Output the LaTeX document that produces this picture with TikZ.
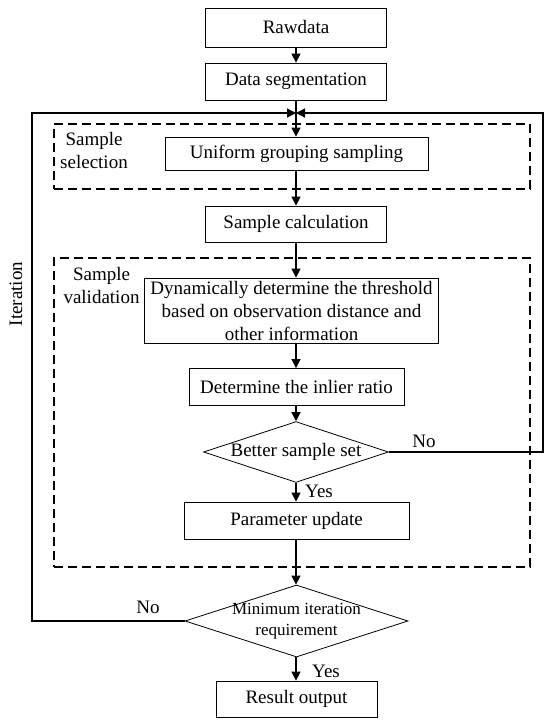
\documentclass[tikz,border=0pt]{standalone}
\usepackage{fontspec}
\setmainfont{Liberation Serif}
\usetikzlibrary{shapes.geometric,arrows.meta}
\begin{document}
\begin{tikzpicture}[x=1pt,y=-1pt,
  every node/.style={font=\fontsize{19}{23}\selectfont},
  box/.style={draw,line width=0.8pt,inner sep=0pt,align=center},
  dia/.style={draw,diamond,line width=0.8pt,inner sep=0pt,align=center,aspect=3},
  dashbox/.style={draw,line width=1.3pt,dash pattern=on 9pt off 5pt,inner sep=0pt},
  conn/.style={line width=1.3pt},
  arr/.style={conn,-{Triangle[length=9pt,width=9pt]}},
  lbl/.style={inner sep=0pt,align=center}]
\useasboundingbox (0,0) rectangle (550,727);
% dashed groups
\node[dashbox,minimum width=476,minimum height=65] (sel) at (292,156.5) {};
\node[dashbox,minimum width=476,minimum height=309] (val) at (292,412.5) {};
\node[lbl] (sellbl) at (94,151) {Sample\\selection};
\node[lbl] (vallbl) at (101.5,285) {Sample\\validation};
% boxes
\node[box,minimum width=181,minimum height=39] (raw) at (296,27.5) {Rawdata};
\node[box,minimum width=181,minimum height=37] (seg) at (296,81.5) {Data segmentation};
\node[box,minimum width=263,minimum height=33] (uni) at (296.5,153.5) {Uniform grouping sampling};
\node[box,minimum width=181,minimum height=36] (calc) at (296,224) {Sample calculation};
\node[box,minimum width=294,minimum height=65] (dyn) at (291.5,310.5) {Dynamically determine the threshold\\based on observation distance and\\other information};
\node[box,minimum width=215,minimum height=37] (inl) at (296.5,387) {Determine the inlier ratio};
\node[dia,minimum width=185,minimum height=56] (better) at (296,452) {Better sample set};
\node[box,minimum width=225,minimum height=37] (par) at (296.5,520.5) {Parameter update};
\node[dia,minimum width=223,minimum height=72,
  label={[lbl,font=\fontsize{17}{21}\selectfont]center:Minimum iteration\\requirement}] (minit) at (296.5,621) {};
\node[box,minimum width=161,minimum height=36] (res) at (296.5,699) {Result output};
% connectors
\coordinate (mt) at (296,113);
\coordinate (rtop) at (543,113);
\coordinate (rbot) at (543,452);
\coordinate (ltop) at (32,113);
\coordinate (lbot) at (32,621);
\draw[arr] (raw.south) -- (seg.north);
\draw[arr] (seg.south) -- (seg.south |- uni.north);
\draw[arr] (uni.south -| seg.south) -- (seg.south |- calc.north);
\draw[arr] (calc.south) -- (calc.south |- dyn.north);
\draw[arr] (calc.south |- dyn.south) -- (calc.south |- inl.north);
\draw[arr] (calc.south |- inl.south) -- (better.north);
\draw[arr] (better.south) -- (better.south |- par.north);
\draw[arr] (better.south |- par.south) -- (better.south |- minit.north);
\draw[arr] (better.south |- minit.south) -- (better.south |- res.north);
\draw[arr] (better.east) -- (rbot) -- (rtop) -- (mt);
\draw[arr] (minit.west) -- (lbot) -- (ltop) -- (mt);
% labels
\node[lbl] (no1) at (424,441) {No};
\node[lbl] (yes1) at (319,491) {Yes};
\node[lbl] (no2) at (148,607) {No};
\node[lbl] (yes2) at (326,671) {Yes};
\node[lbl,rotate=90] (iter) at (16,294) {Iteration};
\end{tikzpicture}
\end{document}
